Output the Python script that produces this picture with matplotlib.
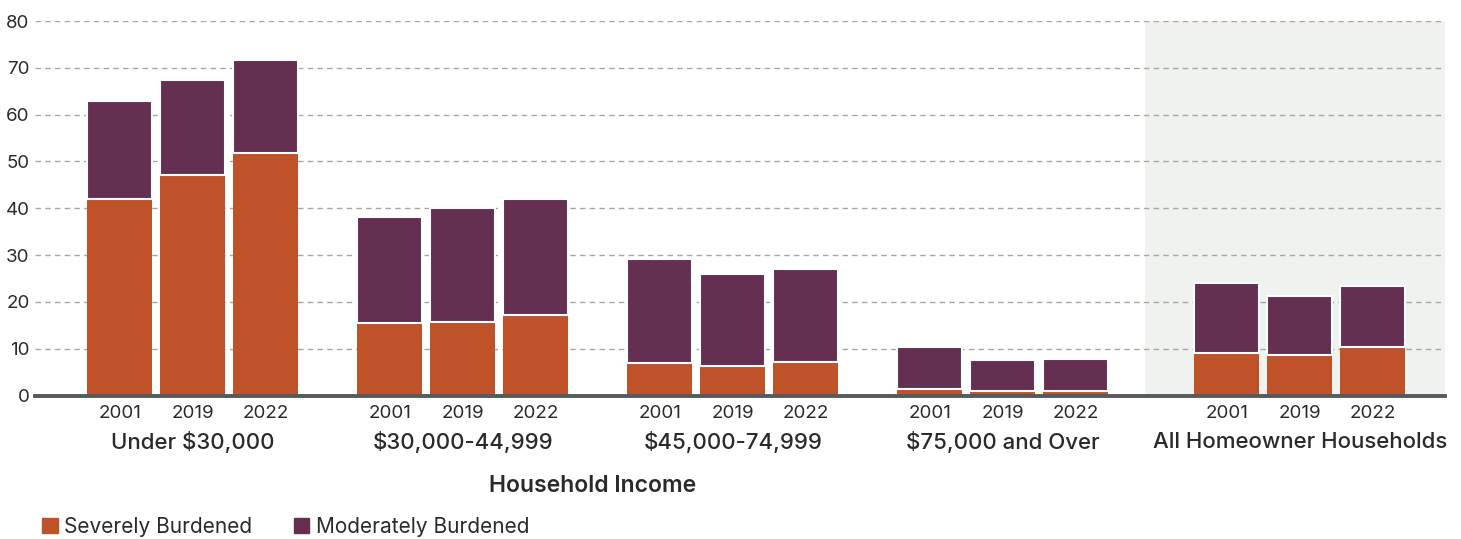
import matplotlib.pyplot as plt
from matplotlib.patches import Patch

plt.rcParams['font.family'] = ['Inter', 'DejaVu Sans']

# 数据
groups = ['Under $30,000', '$30,000-44,999', '$45,000-74,999', '$75,000 and Over', 'All Homeowner Households']
years = ['2001', '2019', '2022']
severe = [
    [42.0, 47.2, 51.9],
    [15.4, 15.7, 17.3],
    [7.0, 6.4, 7.1],
    [1.4, 1.0, 0.9],
    [9.0, 8.6, 10.3],
]
total = [
    [62.9, 67.4, 71.6],
    [38.2, 40.1, 42.0],
    [29.2, 26.0, 27.1],
    [10.4, 7.5, 7.9],
    [24.0, 21.2, 23.3],
]
moderate = [[t - s for t, s in zip(tr, sr)] for tr, sr in zip(total, severe)]

c_severe = '#C0522A'
c_moderate = '#652F52'
text_c = '#2a2a2a'

fig = plt.figure(figsize=(14.61, 5.39), dpi=100)
ax = fig.add_axes([0.024, 0.2662, 0.965, 0.6948])

# 柱子位置
step = 3.7
width = 0.89
xs, labels, centers = [], [], []
for i in range(len(groups)):
    c = i * step + (0.37 if i == 4 else 0)
    centers.append(c)
    for j in range(3):
        x = c + (j - 1)
        xs.append(x)
        labels.append(years[j])
        ax.bar(x, severe[i][j], width=width, color=c_severe, zorder=3, linewidth=0)
        ax.bar(x, moderate[i][j], bottom=severe[i][j], width=width, color=c_moderate,
               edgecolor='white', linewidth=1.5, zorder=3)

ax.set_xlim(-2.16, 17.16)
ax.set_ylim(0, 80)
ax.axvspan(13.05, 17.16, color='#F0F2EF', zorder=0, lw=0)

ax.set_yticks(range(0, 81, 10))
ax.yaxis.grid(True, linestyle=(0, (4, 3)), color='#A8A89E', linewidth=1, zorder=1)
ax.set_axisbelow(True)
for s in ['top', 'right', 'left']:
    ax.spines[s].set_visible(False)
ax.spines['bottom'].set_color('#555A5A')
ax.spines['bottom'].set_linewidth(2.8)
ax.spines['bottom'].set_zorder(4)

ax.set_xticks(xs)
ax.set_xticklabels(labels)
ax.tick_params(axis='x', length=0, pad=7, labelsize=13.5, labelcolor=text_c)
ax.tick_params(axis='y', length=0, pad=4, labelsize=13.5, labelcolor=text_c)

for i, g in enumerate(groups):
    ax.text(centers[i], -9.9, g, ha='center', va='center', fontsize=16,
            fontweight='medium', color=text_c, transform=ax.transData, clip_on=False)

fig.text(593 / 1461, 1 - 486 / 539, 'Household Income', ha='center', va='center',
         fontsize=16.5, fontweight='semibold', color=text_c)

handles = [Patch(color=c_severe, label='Severely Burdened'),
           Patch(color=c_moderate, label='Moderately Burdened')]
fig.legend(handles=handles, loc='center left', bbox_to_anchor=(42 / 1461, 1 - 527 / 539),
           ncol=2, frameon=False, fontsize=15, handlelength=0.75, handleheight=0.75,
           handletextpad=0.3, columnspacing=2.0, labelcolor=text_c,
           borderpad=0, borderaxespad=0)

fig.savefig('out.png', dpi=100)
